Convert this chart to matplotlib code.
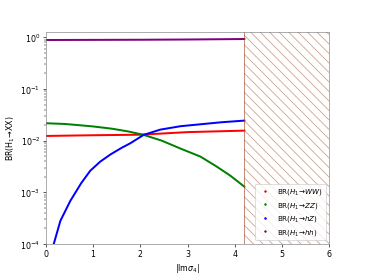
import matplotlib
matplotlib.use('Agg')
import matplotlib.pyplot as plt
from matplotlib.lines import Line2D

# values
x_ww = [0.0, 1.0, 2.0, 3.0, 4.2]
br_ww = [0.0123, 0.0127, 0.0130, 0.0146, 0.0156]

x_zz = [0.0, 0.4, 0.73, 1.0, 1.4, 1.75, 2.07, 2.45, 2.85, 3.27, 3.6, 3.9, 4.2]
br_zz = [0.0217, 0.0210, 0.0198, 0.0188, 0.0170, 0.0150, 0.0129, 0.0100,
         0.0070, 0.0049, 0.0032, 0.0021, 0.00128]

x_hz = [0.17, 0.31, 0.52, 0.75, 0.94, 1.15, 1.37, 1.6, 1.79, 2.07, 2.42,
        2.85, 3.27, 3.7, 4.2]
br_hz = [1.0e-4, 2.8e-4, 6.8e-4, 1.5e-3, 2.6e-3, 3.9e-3, 5.4e-3, 7.2e-3,
         8.9e-3, 0.0129, 0.0163, 0.0190, 0.0207, 0.0226, 0.0244]

x_hh = [0.0, 1.0, 2.0, 3.0, 4.2]
br_hh = [0.89, 0.895, 0.90, 0.91, 0.93]

labels = [r"BR($H_1$→$WW$)", r"BR($H_1$→$ZZ$)",
          r"BR($H_1$→$hZ$)", r"BR($H_1$→$hh$)"]
colors = ["red", "green", "blue", "purple"]

plt.figure(figsize=(6.4, 4.8), dpi=57.2)
ax = plt.gca()

series = [(x_ww, br_ww), (x_zz, br_zz), (x_hz, br_hz), (x_hh, br_hh)]
for (xs, ys), c in zip(series, colors):
    plt.plot(xs, ys, color=c, linewidth=2.5)

# excluded region
plt.axvspan(4.2, 6, facecolor='none', edgecolor='sienna', hatch='\\\\',
            alpha=0.55, linewidth=0)
plt.axvline(4.2, color='sienna', linewidth=1, alpha=0.8)

plt.yscale('log')
plt.xlim(0, 6)
plt.ylim(1e-4, 1.25)
plt.xlabel(r"|Im$\sigma_4$|")
plt.ylabel(r"BR(H$_1$→XX)")

for s in ax.spines.values():
    s.set_color('gray')

handles = [Line2D([], [], color=c, marker='.', linestyle='none', markersize=4)
           for c in colors]
plt.legend(handles, labels, loc='lower right', fontsize=9)

plt.savefig("out.png")
plt.close()
